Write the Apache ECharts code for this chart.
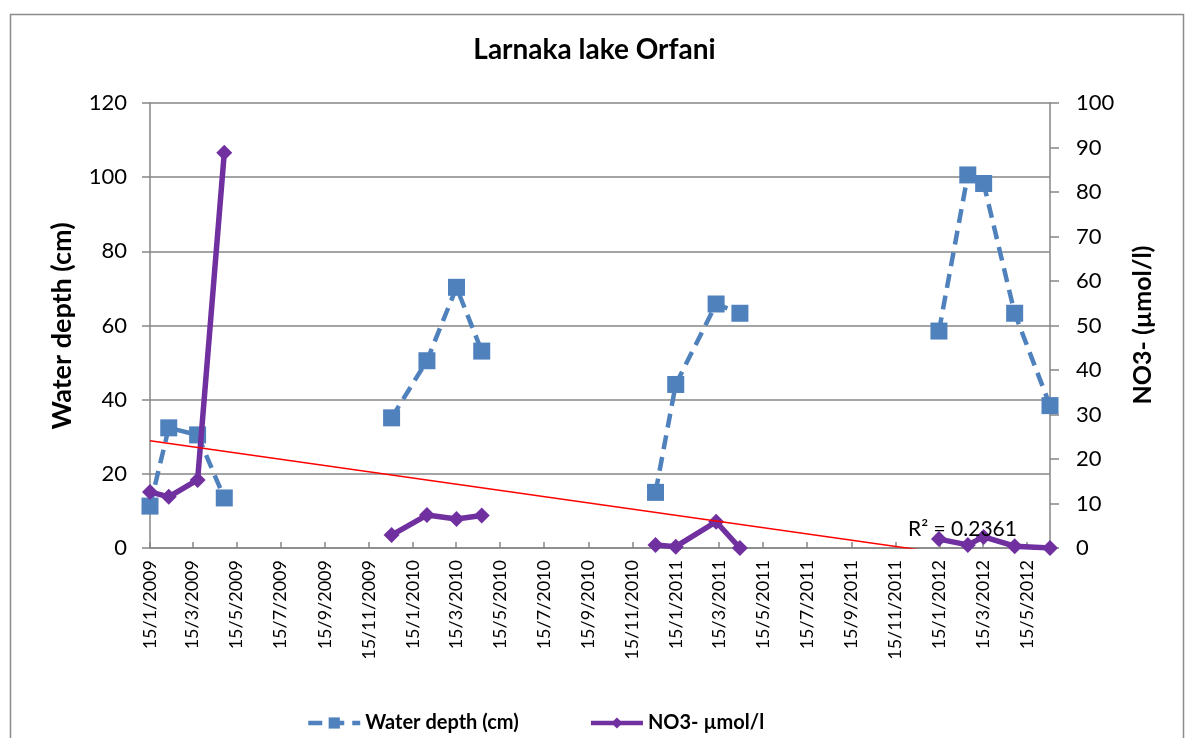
<!DOCTYPE html>
<html>
<head>
<meta charset="utf-8">
<script src="https://cdn.jsdelivr.net/npm/echarts@6/dist/echarts.min.js"></script>
<style>
html,body{margin:0;padding:0;background:#fff;}
#chart{width:1189px;height:738px;}
</style>
</head>
<body>
<div id="chart"></div>
<script>
// ---- data ----
const sampleDates = ['2009-01-15','2009-02-10','2009-03-22','2009-04-28',
  '2009-12-16','2010-02-03','2010-03-16','2010-04-20',
  '2010-12-17','2011-01-14','2011-03-11','2011-04-13',
  '2012-01-14','2012-02-23','2012-03-16','2012-04-28','2012-06-16'];
const campaign = [1,1,1,1, 2,2,2,2, 3,3,3,3, 4,4,4,4,4];
const waterDepth = [11.3,32.4,30.5,13.5, 35.1,50.5,70.3,53.1, 15.0,44.1,65.8,63.3, 58.5,100.6,98.3,63.3,38.4];
const no3 = [12.6,11.5,15.3,88.8, 2.9,7.4,6.5,7.3, 0.7,0.3,5.9,0.0, 2.0,0.7,2.5,0.4,0.0];
const tickLabels = ['15/1/2009','15/3/2009','15/5/2009','15/7/2009','15/9/2009','15/11/2009',
  '15/1/2010','15/3/2010','15/5/2010','15/7/2010','15/9/2010','15/11/2010',
  '15/1/2011','15/3/2011','15/5/2011','15/7/2011','15/9/2011','15/11/2011',
  '15/1/2012','15/3/2012','15/5/2012'];
const leftAxisName = 'Water depth (cm)';
const rightAxisName = 'NO3- (µmol/l)';
const r2Text = 'R\u00B2 = 0.2361';

// ---- helpers ----
const DAY = 86400000;
function parseISO(s){ const p = s.split('-').map(Number); return Date.UTC(p[0], p[1]-1, p[2]) / DAY; }
function parseDMY(s){ const p = s.split('/').map(Number); return Date.UTC(p[2], p[1]-1, p[0]) / DAY; }
const xs = sampleDates.map(parseISO);
const tickValues = tickLabels.map(parseDMY);
const labelByDay = {};
tickValues.forEach((v, i) => { labelByDay[Math.round(v)] = tickLabels[i]; });

function buildSeries(vals){
  const out = [];
  for (let i = 0; i < xs.length; i++){
    if (i > 0 && campaign[i] !== campaign[i-1]) out.push([(xs[i-1]+xs[i])/2, '-']);
    out.push([xs[i], vals[i]]);
  }
  return out;
}

// linear trend (least squares) of NO3 vs time, as Excel's trendline
const n = xs.length;
const mx = xs.reduce((a,b)=>a+b,0)/n, my = no3.reduce((a,b)=>a+b,0)/n;
let sxy = 0, sxx = 0;
for (let i = 0; i < n; i++){ sxy += (xs[i]-mx)*(no3[i]-my); sxx += (xs[i]-mx)*(xs[i]-mx); }
const slope = sxy/sxx, intercept = my - slope*mx;
const xMin = xs[0], xMax = xs[n-1];
const trendData = [[xMin, intercept + slope*xMin], [xMax, intercept + slope*xMax]];

const FONT = 'Lato';
const AXIS_COLOR = '#868686';

const chart = echarts.init(document.getElementById('chart'), null, {renderer:'canvas'});
chart.setOption({
  animation: false,
  backgroundColor: '#ffffff',
  textStyle: {fontFamily: FONT, color: '#000'},
  title: {
    text: 'Larnaka lake Orfani', left: 'center', top: 31,
    textStyle: {fontFamily: FONT, fontSize: 28, fontWeight: 'bold', color: '#000'}
  },
  grid: {left: 150, right: 139, top: 103, bottom: 190, containLabel: false},
  legend: {
    left: 301, top: 708, itemWidth: 52, itemHeight: 14, itemGap: 70,
    data: ['Water depth (cm)', 'NO3- µmol/l'],
    lineStyle: {width: 4.5},
    textStyle: {fontFamily: FONT, fontSize: 20, fontWeight: 'bold', color: '#000'}
  },
  xAxis: {
    type: 'value', min: xMin, max: xMax,
    axisLine: {show: true, onZero: false, lineStyle: {color: AXIS_COLOR, width: 1.5}},
    axisTick: {show: true, inside: true, length: 6, customValues: tickValues, lineStyle: {color: AXIS_COLOR, width: 1.5}},
    axisLabel: {
      customValues: tickValues, rotate: 90, margin: 12, fontSize: 18, fontFamily: FONT, color: '#000',
      hideOverlap: false,
      formatter: function(v){ return labelByDay[Math.round(v)] || ''; }
    },
    splitLine: {show: false}
  },
  yAxis: [{
    type: 'value', min: 0, max: 120, interval: 20,
    axisLine: {show: true, lineStyle: {color: AXIS_COLOR, width: 1.5}},
    axisTick: {show: true, length: 8, lineStyle: {color: AXIS_COLOR, width: 1.5}},
    axisLabel: {fontSize: 22, margin: 23, fontFamily: FONT, color: '#000'},
    splitLine: {show: true, lineStyle: {color: AXIS_COLOR, width: 1.5}}
  }, {
    type: 'value', min: 0, max: 100, interval: 10, position: 'right',
    axisLine: {show: true, lineStyle: {color: AXIS_COLOR, width: 1.5}},
    axisTick: {show: true, length: 9, lineStyle: {color: AXIS_COLOR, width: 1.5}},
    axisLabel: {fontSize: 22, margin: 26, fontFamily: FONT, color: '#000'},
    splitLine: {show: false}
  }],
  series: [{
    name: 'Water depth (cm)', type: 'line', yAxisIndex: 0,
    data: buildSeries(waterDepth),
    symbol: 'rect', symbolSize: 17, showSymbol: true,
    itemStyle: {color: '#4F81BD'},
    lineStyle: {color: '#4F81BD', width: 4.5, type: [14, 8], cap: 'butt'},
    connectNulls: false, z: 2
  }, {
    name: 'NO3- µmol/l', type: 'line', yAxisIndex: 1,
    data: buildSeries(no3),
    symbol: 'diamond', symbolSize: 16, showSymbol: true,
    itemStyle: {color: '#7030A0'},
    lineStyle: {color: '#7030A0', width: 5.5},
    connectNulls: false, z: 3
  }, {
    name: 'trend', type: 'line', yAxisIndex: 1,
    data: trendData, symbol: 'none', clip: true,
    lineStyle: {color: '#FF0000', width: 1.5},
    silent: true, z: 4
  }],
  graphic: [{
    type: 'rect', left: 8, top: 12, z: -10, silent: true,
    shape: {width: 1173, height: 740},
    style: {fill: 'none', stroke: '#8c8c8c', lineWidth: 1.5}
  }, {
    type: 'text', left: 908, top: 519, z: 10,
    style: {text: r2Text, fontFamily: FONT, fontSize: 21, fill: '#000'}
  }, {
    type: 'text', x: 62, y: 326, rotation: Math.PI / 2, z: 10,
    style: {text: leftAxisName, fontFamily: FONT, fontSize: 27, fontWeight: 'bold', fill: '#000', align: 'center', verticalAlign: 'middle'}
  }, {
    type: 'text', x: 1143, y: 325, rotation: Math.PI / 2, z: 10,
    style: {text: rightAxisName, fontFamily: FONT, fontSize: 25, fontWeight: 'bold', fill: '#000', align: 'center', verticalAlign: 'middle'}
  }]
});
</script>
</body>
</html>
